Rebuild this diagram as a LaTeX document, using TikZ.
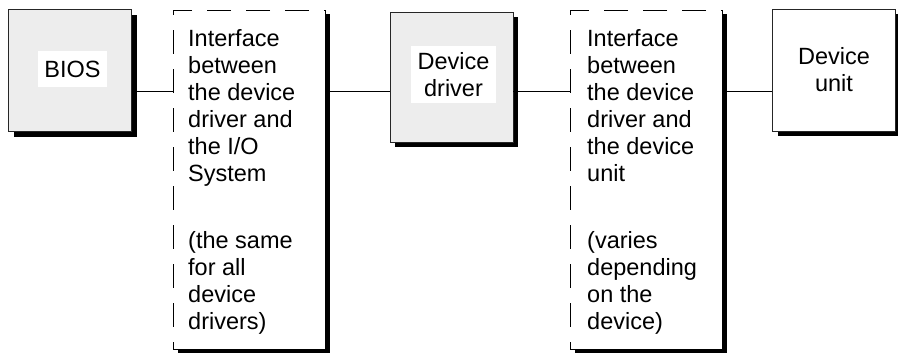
\documentclass[tikz,border=0pt]{standalone}
\usepackage{fontspec}
\setmainfont{Liberation Sans}
\usetikzlibrary{shadows}

\begin{document}
\begin{tikzpicture}[x=1pt,y=-1pt,
    every node/.style={font=\fontsize{23.5}{27}\selectfont},
    unit/.style={draw=black!85, line width=.8pt, fill=#1, inner sep=0pt,
      minimum width=123pt, minimum height=122pt, align=center,
      drop shadow={shadow xshift=5pt, shadow yshift=-5pt, fill=black, opacity=1}},
    ifbox/.style={draw, line width=1pt, dash pattern=on 24pt off 15pt, fill=white,
      inner sep=0pt, minimum width=152pt, minimum height=339pt,
      drop shadow={shadow xshift=5pt, shadow yshift=-4pt, fill=black, opacity=1}},
    tag/.style={fill=white, inner xsep=7pt, inner ysep=6pt, align=center},
    iftext/.style={anchor=north west, inner sep=0pt, align=left},
    link/.style={line width=.8pt}]
    \useasboundingbox (0,0) rectangle (898,354);
    \coordinate (wire) at (0,91);

    % the four blocks
    \node[unit=black!7] (bios) at (70,70.5) {};
    \node[tag, minimum height=36pt, inner xsep=6.5pt] (bios-t) at (72.5,69) {BIOS};
    \node[ifbox] (if1) at (249,179.5) {};
    \node[iftext] (if1-t) at (188,29) {Interface\\between\\the device\\driver and\\the I/O\\System\\[40pt]
      (the same\\for all\\device\\drivers)};
    \node[unit=black!7, minimum height=130pt] (drv) at (451.5,77) {};
    \node[tag] (drv-t) at (453.5,74.5) {Device\\driver};
    \node[ifbox] (if2) at (646,179.5) {};
    \node[iftext] (if2-t) at (587,29) {Interface\\between\\the device\\driver and\\the device\\unit\\[40pt]
      (varies\\depending\\on the\\device)};
    \node[unit=white] (dev) at (834,70) {Device\\unit};

    % connections
    \draw[link] (bios.east |- wire) -- (if1.west |- wire);
    \draw[link] (if1.east |- wire) -- (drv.west |- wire);
    \draw[link] (drv.east |- wire) -- (if2.west |- wire);
    \draw[link] (if2.east |- wire) -- (dev.west |- wire);
\end{tikzpicture}
\end{document}
